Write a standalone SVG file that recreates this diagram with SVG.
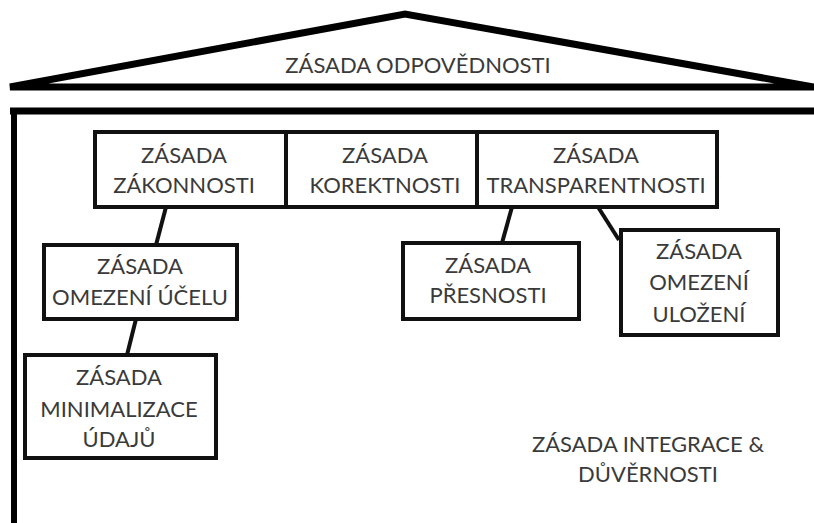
<svg xmlns="http://www.w3.org/2000/svg" width="814" height="523" viewBox="0 0 814 523">
<style>
.t{font-family:Lato,"Liberation Sans",sans-serif;font-size:22px;font-weight:400;fill:#3a3a3a;text-anchor:middle}
.box{fill:#fff;stroke:#111;stroke-width:4}
.ln{stroke:#111;stroke-width:4;fill:none}
.wall{stroke:#000;fill:none}
</style>
<rect width="814" height="523" fill="#fff"/>
<g id="roof">
<polygon points="10,87 405,14 814,87" class="wall" stroke-width="7" stroke-linejoin="miter" fill="#fff"/>
<text class="t" x="418" y="73">ZÁSADA ODPOVĚDNOSTI</text>
</g>
<g id="building">
<line x1="10" y1="111" x2="814" y2="111" class="wall" stroke-width="7"/>
<line x1="14" y1="108" x2="14" y2="523" class="wall" stroke-width="6"/>
</g>
<g id="connectors">
<line class="ln" x1="166" y1="207" x2="156" y2="245"/>
<line class="ln" x1="136" y1="319" x2="127" y2="355"/>
<line class="ln" x1="512" y1="207" x2="502" y2="243"/>
<line class="ln" x1="598" y1="207" x2="619" y2="240"/>
</g>
<g id="zakonnosti">
<rect class="box" x="95" y="132" width="191" height="75"/>
<text class="t" x="184" y="163">ZÁSADA</text>
<text class="t" x="184" y="193">ZÁKONNOSTI</text>
</g>
<g id="korektnosti">
<rect class="box" x="286" y="132" width="191" height="75"/>
<text class="t" x="385" y="163">ZÁSADA</text>
<text class="t" x="385" y="193">KOREKTNOSTI</text>
</g>
<g id="transparentnosti">
<rect class="box" x="477" y="132" width="240" height="75"/>
<text class="t" x="596" y="163">ZÁSADA</text>
<text class="t" x="596" y="193">TRANSPARENTNOSTI</text>
</g>
<g id="omezeni-ucelu">
<rect class="box" x="44" y="245" width="193" height="74"/>
<text class="t" x="140" y="274">ZÁSADA</text>
<text class="t" x="140" y="305">OMEZENÍ ÚČELU</text>
</g>
<g id="presnosti">
<rect class="box" x="403" y="243" width="176" height="76"/>
<text class="t" x="488" y="273">ZÁSADA</text>
<text class="t" x="488" y="303">PŘESNOSTI</text>
</g>
<g id="omezeni-ulozeni">
<rect class="box" x="621" y="230" width="157" height="105"/>
<text class="t" x="699" y="259">ZÁSADA</text>
<text class="t" x="699" y="290">OMEZENÍ</text>
<text class="t" x="699" y="322">ULOŽENÍ</text>
</g>
<g id="minimalizace">
<rect class="box" x="25" y="355" width="191" height="103"/>
<text class="t" x="119" y="385">ZÁSADA</text>
<text class="t" x="119" y="417">MINIMALIZACE</text>
<text class="t" x="119" y="447">ÚDAJŮ</text>
</g>
<g id="integrace">
<text class="t" x="648" y="452">ZÁSADA INTEGRACE &amp;</text>
<text class="t" x="648" y="482">DŮVĚRNOSTI</text>
</g>
</svg>
